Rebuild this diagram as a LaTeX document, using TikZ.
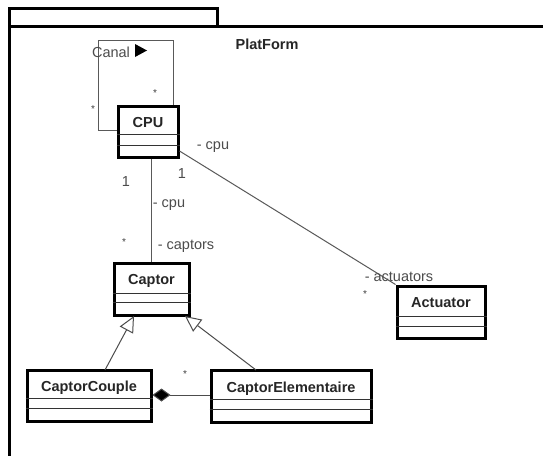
\documentclass[tikz,border=0pt]{standalone}
\usepackage{fontspec}
\setmainfont{Liberation Sans}
\usetikzlibrary{arrows.meta}
\tikzset{
  pkg/.style={draw=black, line width=3pt},
  classbox/.style={draw=black, line width=3pt, rectangle, inner sep=0pt},
  cname/.style={font=\fontsize{14.5}{16}\selectfont\bfseries, text=black!85, inner sep=0pt, anchor=base},
  comp/.style={draw=black!80, line width=1pt},
  lbl/.style={font=\fontsize{14.5}{16}\selectfont, text=black!70, inner sep=0pt, anchor=base},
  mult/.style={font=\fontsize{10}{12}\selectfont, text=black!75, inner sep=0pt},
  assoc/.style={draw=black!65, line width=1pt},
  gen/.style={draw=black!70, line width=1pt, -{Triangle[open, length=16pt, width=15pt, fill=white]}},
  compo/.style={draw=black!70, line width=1pt, {Diamond[length=18pt, width=13pt, fill=black]}-},
}
\begin{document}
\begin{tikzpicture}[x=1pt, y=-1pt]
\useasboundingbox (0,0) rectangle (543,455);
\clip (0,0) rectangle (543,455);
\fill[white] (0,0) rectangle (543,455);
% package
\draw[pkg] (9,8) rectangle (217,26);
\draw[pkg] (9,470) -- (9,26) -- (560,26);
\node[font=\fontsize{14.5}{16}\selectfont\bfseries, text=black!85, anchor=base, inner sep=0pt] (title) at (267,49) {PlatForm};
% classes
\node[classbox, minimum width=60pt, minimum height=51pt] (cpu) at (148,131.5) {};
\node[cname] (cputxt) at (148,127) {CPU};
\node[classbox, minimum width=75pt, minimum height=52pt] (captor) at (151.5,289) {};
\node[cname] (captortxt) at (151.5,284) {Captor};
\node[classbox, minimum width=88pt, minimum height=52pt] (act) at (441,312) {};
\node[cname] (acttxt) at (441,307) {Actuator};
\node[classbox, minimum width=124pt, minimum height=51pt] (cc) at (89,395.5) {};
\node[cname] (cctxt) at (89,391) {CaptorCouple};
\node[classbox, minimum width=160pt, minimum height=52pt] (ce) at (291,396) {};
\node[cname] (cetxt) at (291,392) {CaptorElementaire};
% compartments
\draw[comp] (cpu.west |- 0,134) -- (cpu.east |- 0,134);
\draw[comp] (cpu.west |- 0,145) -- (cpu.east |- 0,145);
\draw[comp] (captor.west |- 0,293) -- (captor.east |- 0,293);
\draw[comp] (captor.west |- 0,302) -- (captor.east |- 0,302);
\draw[comp] (act.west |- 0,316) -- (act.east |- 0,316);
\draw[comp] (act.west |- 0,326) -- (act.east |- 0,326);
\draw[comp] (cc.west |- 0,398) -- (cc.east |- 0,398);
\draw[comp] (cc.west |- 0,408) -- (cc.east |- 0,408);
\draw[comp] (ce.west |- 0,399) -- (ce.east |- 0,399);
\draw[comp] (ce.west |- 0,409) -- (ce.east |- 0,409);
% self association Canal
\coordinate (l1) at (98,130);
\coordinate (l2) at (98,40);
\coordinate (l3) at (173,40);
\draw[assoc] (cpu.west |- l1) -- (l1) -- (l2) -- (l3) -- (l3 |- cpu.north);
\node[lbl] (canal) at (111,57) {Canal};
\fill[black] (135,44) -- (147,50.5) -- (135,57) -- cycle;
\node[mult] (m1) at (155,93) {*};
\node[mult] (m2) at (93,109) {*};
% CPU - Captor
\draw[assoc] (cpu.south -| 151,0) -- (captor.north -| 151,0);
\node[lbl] (l1txt) at (126,186) {1};
\node[lbl] (cpulbl1) at (169,207) {- cpu};
\node[mult] (m3) at (124,242) {*};
\node[lbl] (captlbl) at (186,249) {- captors};
% CPU - Actuator
\draw[assoc] (cpu.east |- 0,151) -- (act.north west);
\node[lbl] (cpulbl2) at (213,149) {- cpu};
\node[lbl] (l2txt) at (182,178) {1};
\node[lbl] (actlbl) at (399,281) {- actuators};
\node[mult] (m4) at (365,294) {*};
% generalisations
\draw[gen] (105,370) -- (134,316);
\draw[gen] (256,370) -- (185,316);
% composition
\draw[compo] (cc.east |- 0,395) -- (ce.west |- 0,395);
\node[mult] (m5) at (185,374) {*};
\end{tikzpicture}
\end{document}
